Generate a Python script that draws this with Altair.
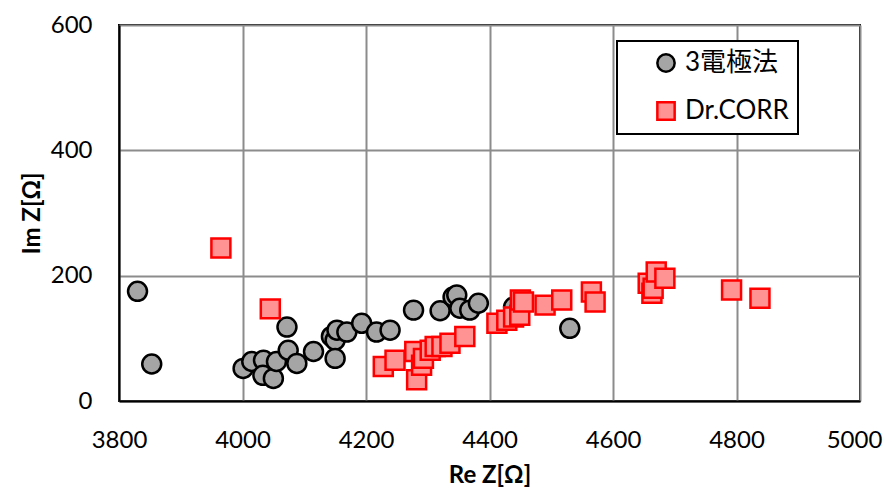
import altair as alt
import pandas as pd

# Data
series_names = ["3電極法", "Dr.CORR"]

circle_re = [3830, 3853, 4001, 4015, 4034, 4033, 4050, 4055, 4074, 4088, 4072, 4115,
             4144, 4150, 4153, 4150, 4169, 4193, 4217, 4239, 4277, 4320, 4341, 4347,
             4352, 4368, 4382, 4439, 4530]
circle_im = [175, 59, 52, 63, 65, 41, 36, 63, 81, 60, 118, 79,
             103, 97, 113, 68, 110, 124, 110, 113, 145, 144, 166, 169,
             148, 145, 156, 150, 116]

square_re = [3965, 4045, 4228, 4247, 4279, 4282, 4290, 4293, 4304, 4312, 4323, 4336,
             4360, 4412, 4428, 4439, 4449, 4450, 4455, 4490, 4517, 4565, 4571, 4657,
             4663, 4665, 4670, 4684, 4792, 4838]
square_im = [244, 147, 55, 65, 79, 34, 57, 68, 81, 87, 87, 92,
             103, 124, 129, 134, 137, 161, 158, 153, 161, 174, 158, 188,
             172, 180, 206, 196, 177, 164]

x_ticks = [3800, 4000, 4200, 4400, 4600, 4800, 5000]
y_ticks = [0, 200, 400, 600]

df = pd.concat([
    pd.DataFrame({"re": circle_re, "im": circle_im, "series": series_names[0]}),
    pd.DataFrame({"re": square_re, "im": square_im, "series": series_names[1]}),
], ignore_index=True)

FONT = "Lato, 'Noto Sans CJK JP', sans-serif"

leg = alt.Legend(
    title=None, orient="none", legendX=498, legendY=16,
    labelExpr="datum.label + '     '",
    labelFont=FONT, labelFontSize=26, labelColor="#000000",
    symbolSize=300, symbolStrokeWidth=2.5, symbolOffset=27, labelOffset=6,
    rowPadding=20, padding=9,
    strokeColor="#000000", fillColor="#ffffff",
)

chart = alt.Chart(df).mark_point(size=360, strokeWidth=2.5, opacity=1).encode(
    x=alt.X("re:Q", title="Re Z[Ω]",
            scale=alt.Scale(domain=[3800, 5000], nice=False, zero=False),
            axis=alt.Axis(values=x_ticks, format="d", labelFlush=False,
                          labelOffset={"condition": {"test": "datum.value >= 5000", "value": -6},
                                       "value": 0})),
    y=alt.Y("im:Q", title="Im Z[Ω]",
            scale=alt.Scale(domain=[0, 600], nice=False),
            axis=alt.Axis(values=y_ticks, format="d", labelFlush=False)),
    shape=alt.Shape("series:N", scale=alt.Scale(domain=series_names, range=["circle", "square"]),
                    legend=leg),
    fill=alt.Fill("series:N", scale=alt.Scale(domain=series_names, range=["#a5a5a5", "#ff9393"]),
                  legend=leg),
    stroke=alt.Stroke("series:N", scale=alt.Scale(domain=series_names, range=["#000000", "#ff0000"]),
                      legend=leg),
).properties(
    width=741,
    height=376,
    padding={"left": 111, "top": 17, "right": 24, "bottom": 88},
    autosize=alt.AutoSizeParams(type="none"),
).configure_view(
    stroke="#000000", strokeWidth=2
).configure_axis(
    labelFont=FONT, labelFontSize=24, labelColor="#000000",
    titleFont=FONT, titleFontSize=24, titleFontWeight="bold", titleColor="#000000",
    grid=True, gridColor="#8c8c8c", gridWidth=2,
    domain=True, domainColor="#000000", domainWidth=2,
    ticks=False,
).configure_axisX(
    labelPadding=27, titlePadding=11,
).configure_axisY(
    labelPadding=27, titlePadding=6,
).configure_legend(
    strokeWidth=2,
)

chart.save("out.html", embed_options={"renderer": "svg", "actions": False})
